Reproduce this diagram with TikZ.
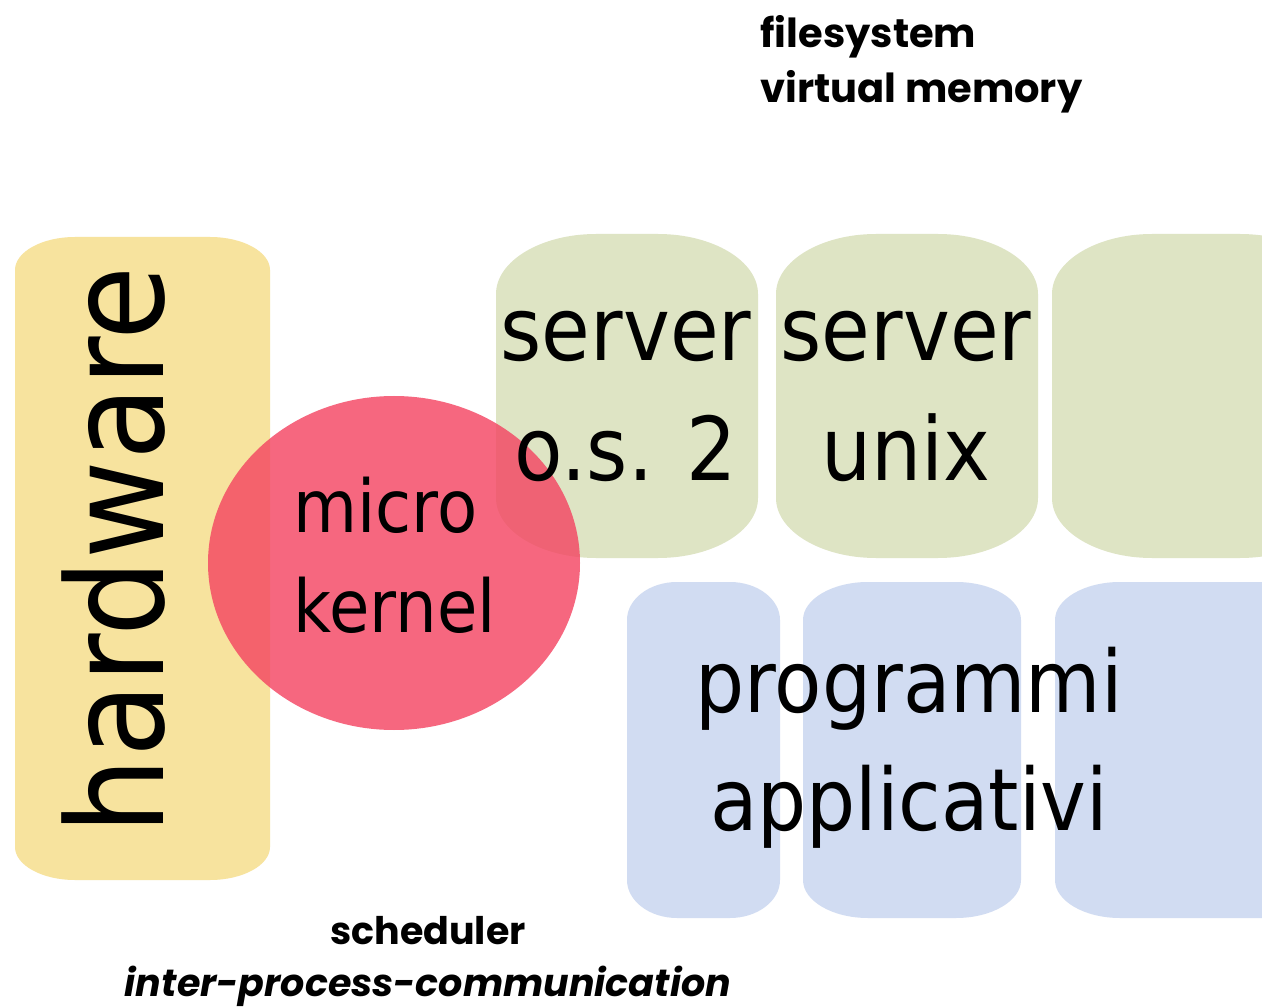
\documentclass[tikz,border=0pt]{standalone}
\usepackage{fontspec}
\newfontfamily\panefont{DejaVu Sans}[FakeStretch=0.9]
\newfontfamily\notefont{Poppins}
\definecolor{hwyellow}{RGB}{247, 227, 158}
\definecolor{srvgreen}{RGB}{222, 228, 196}
\definecolor{appblue}{RGB}{209, 220, 242}
\definecolor{kernred}{RGB}{244, 66, 96}
\newcommand{\capsule}[7]{%
	\fill[#1] (#2,#3+#7) .. controls (#2,#3+0.45*#7) and (#2+0.45*#6,#3) .. (#2+#6,#3)
		-- (#4-#6,#3) .. controls (#4-0.45*#6,#3) and (#4,#3+0.45*#7) .. (#4,#3+#7)
		-- (#4,#5-#7) .. controls (#4,#5-0.45*#7) and (#4-0.45*#6,#5) .. (#4-#6,#5)
		-- (#2+#6,#5) .. controls (#2+0.45*#6,#5) and (#2,#5-0.45*#7) .. (#2,#5-#7) -- cycle;}

\begin{document}
\begin{tikzpicture}[x=1pt, y=-1pt,
		bigtext/.style={font=\panefont\fontsize{88}{120}\selectfont, align=center, anchor=base},
		note/.style={font=\notefont\bfseries\fontsize{40}{55}\selectfont, anchor=base}]
			\fill[white] (0,0) rectangle (1262,1008);
			\clip (0,0) rectangle (1262,1008);
			\capsule{hwyellow}{15}{237}{270}{880}{60}{33}
			\capsule{srvgreen}{496}{234}{758}{558}{100}{60}
			\capsule{srvgreen}{776}{234}{1038}{558}{100}{60}
			\capsule{srvgreen}{1052}{234}{1340}{558}{100}{60}
			\capsule{appblue}{627}{582}{780}{918}{50}{38}
			\capsule{appblue}{803}{582}{1021}{918}{65}{38}
			\capsule{appblue}{1055}{582}{1340}{918}{65}{38}
			\fill[kernred, fill opacity=0.8] (394,563) ellipse [x radius=186, y radius=167];
			\node[bigtext, font=\panefont\fontsize{134}{134}\selectfont, rotate=90] (hw) at (163,550) {hardware};
			\node[bigtext] (os2) at (626,480) {server\\o.s. 2};
			\node[bigtext] (unix) at (906,480) {server\\unix};
			\node[bigtext, align=left, anchor=base west, font=\panefont\fontsize{73}{100}\selectfont] (mk) at (290,632) {micro\\kernel};
			\node[bigtext, font=\panefont\fontsize{86}{118}\selectfont] (apps) at (909,830) {programmi\\applicativi};
			\node[note, align=left, anchor=base west] (fs) at (757,103) {filesystem\\virtual memory};
			\node[note, align=center, font=\notefont\bfseries\fontsize{38}{52}\selectfont] (sched) at (428,996) {scheduler\\\itshape inter-process-communication};
		\end{tikzpicture}
\end{document}
